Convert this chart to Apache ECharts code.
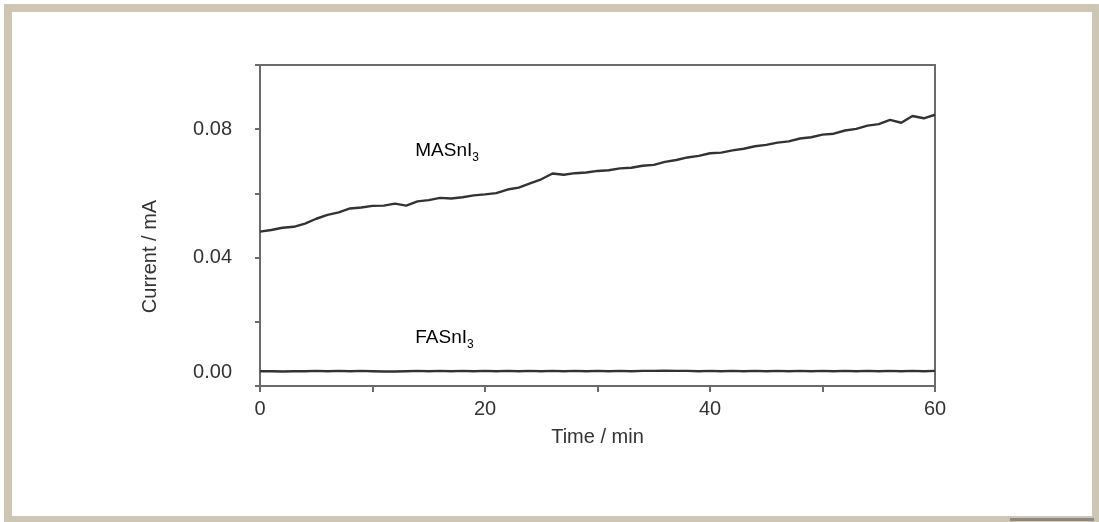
<!DOCTYPE html>
<html>
<head>
<meta charset="utf-8">
<script src="https://cdn.jsdelivr.net/npm/echarts@6/dist/echarts.min.js"></script>
<style>
html,body{margin:0;padding:0;background:#ffffff;}
#c{width:1099px;height:522px;}
</style>
</head>
<body>
<div id="c"></div>
<script>
// Time in minutes
const timeMin = [0,1,2,3,4,5,6,7,8,9,10,11,12,13,14,15,16,17,18,19,20,21,22,23,24,25,26,27,28,29,30,31,32,33,34,35,36,37,38,39,40,41,42,43,44,45,46,47,48,49,50,51,52,53,54,55,56,57,58,59,60];
// Current (mA) of MASnI3
const masni3 = [0.0481,0.0486,0.0493,0.0496,0.0506,0.0521,0.0533,0.0541,0.0553,0.0556,0.0561,0.0562,0.0568,0.0562,0.0575,0.0579,0.0586,0.0584,0.0588,0.0594,0.0597,0.0601,0.0612,0.0618,0.0631,0.0644,0.0662,0.0658,0.0663,0.0665,0.0670,0.0672,0.0678,0.0680,0.0686,0.0689,0.0698,0.0704,0.0712,0.0717,0.0725,0.0727,0.0734,0.0739,0.0747,0.0751,0.0758,0.0762,0.0771,0.0775,0.0783,0.0786,0.0796,0.0801,0.0811,0.0816,0.0829,0.0820,0.0841,0.0834,0.0845];
// Current (mA) of FASnI3
const fasni3 = [0.0046,0.0046,0.0045,0.0046,0.0046,0.0047,0.0046,0.0047,0.0046,0.0047,0.0046,0.0045,0.0045,0.0046,0.0047,0.0046,0.0047,0.0046,0.0047,0.0046,0.0047,0.0046,0.0047,0.0046,0.0047,0.0046,0.0047,0.0046,0.0047,0.0046,0.0047,0.0046,0.0047,0.0046,0.0047,0.0047,0.0048,0.0047,0.0047,0.0046,0.0047,0.0046,0.0047,0.0046,0.0047,0.0046,0.0047,0.0046,0.0047,0.0046,0.0047,0.0046,0.0047,0.0046,0.0047,0.0046,0.0047,0.0046,0.0047,0.0046,0.0047];
const xTickLabels = [0,20,40,60];
const yTickLabels = [0.00,0.04,0.08];
const seriesNames = ['MASnI3','FASnI3'];
const labelAt = [[13.8,0.0732],[13.8,0.0150]];

const FONT = '"Liberation Sans", Arial, sans-serif';
const AX = '#6a6a6a';
const chart = echarts.init(document.getElementById('c'), null, {renderer:'canvas'});

function near(a,b){return Math.abs(a-b)<1e-9;}

const option = {
  animation:false,
  backgroundColor:'#ffffff',
  grid:{left:260, top:65, right:164, bottom:136, show:true, borderColor:AX, borderWidth:2, backgroundColor:'transparent'},
  xAxis:{
    type:'value', min:0, max:60, interval:10,
    name:'Time / min', nameLocation:'middle', nameGap:41,
    nameTextStyle:{fontFamily:FONT, fontSize:20, color:'#333'},
    axisLine:{show:true, lineStyle:{color:AX, width:2}},
    axisTick:{show:true, inside:false, length:6, lineStyle:{color:AX, width:2}},
    axisLabel:{margin:13, fontFamily:FONT, fontSize:20, color:'#333',
      formatter:function(v){return xTickLabels.some(t=>near(t,v)) ? String(v) : '';}},
    splitLine:{show:false}
  },
  yAxis:{
    type:'value', min:0, max:0.1, interval:0.02,
    name:'Current / mA', nameLocation:'middle', nameGap:100,
    nameTextStyle:{fontFamily:FONT, fontSize:20, color:'#333', padding:[0,62,0,0]},
    axisLine:{show:true, lineStyle:{color:AX, width:2}},
    axisTick:{show:true, inside:false, length:5, lineStyle:{color:AX, width:2}},
    axisLabel:{margin:28, fontFamily:FONT, fontSize:20, color:'#333',
      formatter:function(v){
        if (near(v,0)) return '{z|0.00}';
        return yTickLabels.some(t=>near(t,v)) ? v.toFixed(2) : '';
      },
      rich:{z:{fontFamily:FONT, fontSize:20, color:'#333', padding:[0,0,28,0]}}
    },
    splitLine:{show:false}
  },
  series:[
    {name:seriesNames[0], type:'line', showSymbol:false, smooth:false,
     data:timeMin.map((t,i)=>[t,masni3[i]]),
     lineStyle:{color:'#333333', width:2.4}},
    {name:seriesNames[1], type:'line', showSymbol:false, smooth:false,
     data:timeMin.map((t,i)=>[t,fasni3[i]]),
     lineStyle:{color:'#333333', width:2.4}}
  ]
};
chart.setOption(option);

function labelGraphic(){
  const els = [
    {type:'rect', shape:{x:8, y:8, width:1088, height:512}, style:{fill:'transparent', stroke:'#cdc6b4', lineWidth:8}, silent:true, z:100},
    {type:'rect', shape:{x:1010, y:518, width:84, height:3}, style:{fill:'#8e897d'}, silent:true, z:101}
  ];
  labelAt.forEach(function(p,i){
    const px = chart.convertToPixel({gridIndex:0}, p);
    const base = seriesNames[i].replace(/3$/,'');
    els.push({type:'text', x:px[0], y:px[1], z:50,
      style:{text:'{a|'+base+'}{s|3}', verticalAlign:'middle', align:'left',
        rich:{a:{fontFamily:FONT, fontSize:19, color:'#333', verticalAlign:'bottom'},
              s:{fontFamily:FONT, fontSize:12, color:'#333', verticalAlign:'bottom', padding:[0,0,-3,0]}}}});
  });
  return els;
}
chart.setOption({graphic:labelGraphic()});
</script>
</body>
</html>
